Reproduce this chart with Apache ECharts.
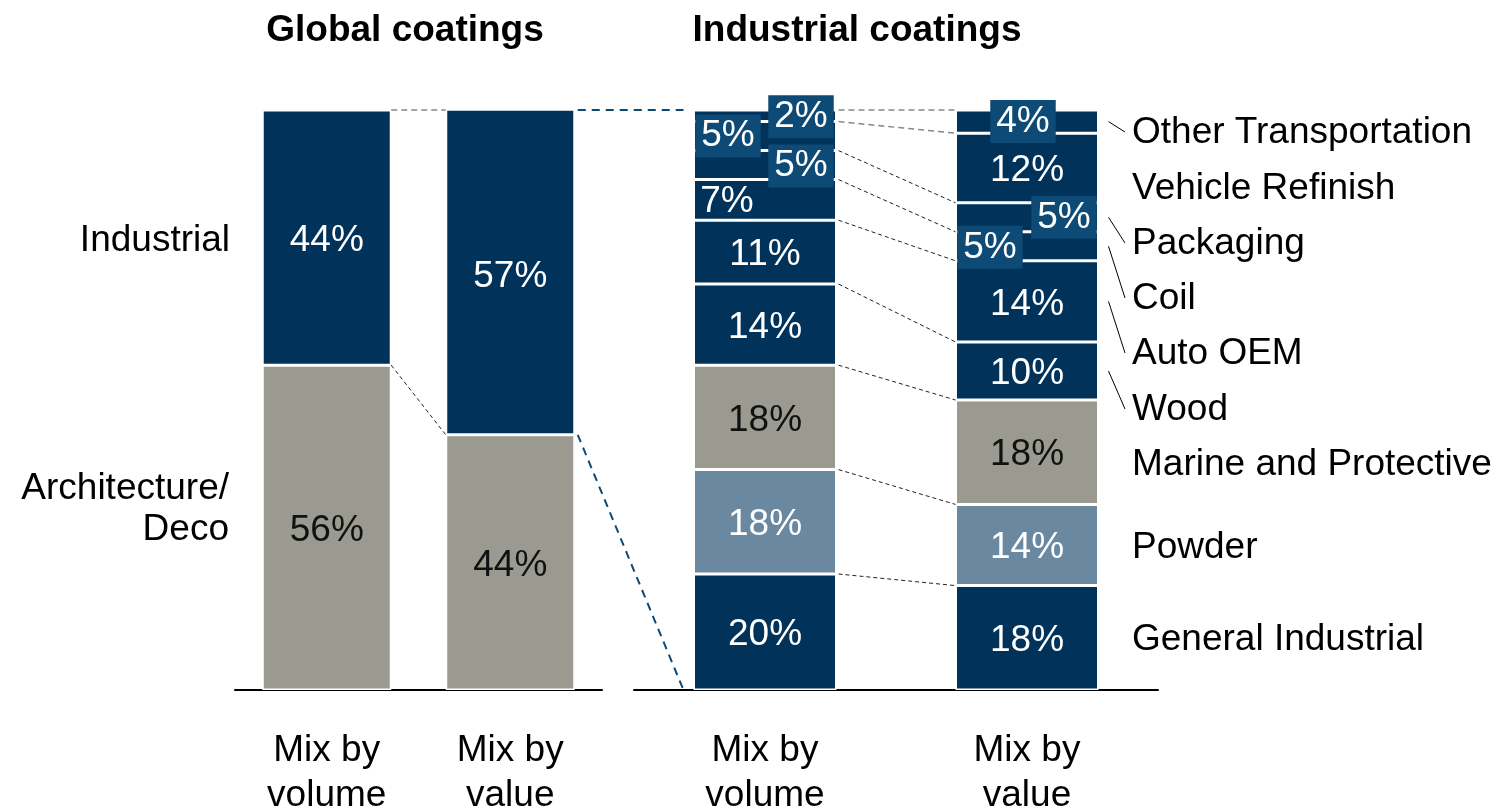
<!DOCTYPE html>
<html>
<head>
<meta charset="utf-8">
<script src="https://cdn.jsdelivr.net/npm/echarts@6/dist/echarts.min.js"></script>
<style>
html,body{margin:0;padding:0;background:#fff;}
#c{width:1498px;height:807px;}
</style>
</head>
<body>
<div id="c"></div>
<script>
// ---------- DATA ----------
const globalCategories = ['Mix by\nvolume', 'Mix by\nvalue'];
const globalSegments = ['Architecture/Deco', 'Industrial'];
const globalArchDeco = [56, 44];
const globalIndustrial = [44, 57];

const industrialCategories = ['Mix by\nvolume', 'Mix by\nvalue'];
const industrialSegments = ['General Industrial', 'Powder', 'Marine and Protective', 'Wood', 'Auto OEM', 'Coil', 'Packaging', 'Vehicle Refinish', 'Other Transportation'];
const industrialVolume = [20, 18, 18, 14, 11, 7, 5, 5, 2];
const industrialValue = [18, 14, 18, 10, 14, 5, 5, 12, 4];

const titles = ['Global coatings', 'Industrial coatings'];

// ---------- STYLE / LAYOUT ----------
const FONT = 'Liberation Sans, Arial, sans-serif';
const NAVY = '#00325a';
const GREY = '#9a9a90';
const POWDER = '#6a89a0';
const BOX = '#0d4a75';
const FS = 37;
const BW0 = 129, BW1 = 143;

const segColors = {
  'General Industrial': NAVY, 'Powder': POWDER, 'Marine and Protective': GREY, 'Wood': NAVY,
  'Auto OEM': NAVY, 'Coil': NAVY, 'Packaging': NAVY, 'Vehicle Refinish': NAVY, 'Other Transportation': NAVY
};
const segTextColor = { 'Marine and Protective': '#111' };
// special label tweaks: [segment][catIndex]
const labelTweaks = {
  'Other Transportation': { 0: { box: true, offset: [36, 1] }, 1: { box: true, offset: [-4, 0] } },
  'Vehicle Refinish': { 0: { box: true, offset: [-37, 0] } },
  'Packaging': { 0: { box: true, offset: [36, 1] }, 1: { box: true, offset: [37, 0] } },
  'Coil': { 0: { box: false, offset: [-38, 2] }, 1: { box: true, offset: [-37, 1] } }
};
const rightLabelY = { 'Other Transportation': 133, 'Vehicle Refinish': 189, 'Packaging': 244, 'Coil': 299,
  'Auto OEM': 354, 'Wood': 410, 'Marine and Protective': 465, 'Powder': 548, 'General Industrial': 640 };
const leaderSegs = ['Other Transportation', 'Packaging', 'Coil', 'Auto OEM', 'Wood'];

const chart = echarts.init(document.getElementById('c'), null, { renderer: 'canvas' });

function xAxis(gi, cats) {
  return {
    type: 'category', gridIndex: gi, data: cats,
    axisLine: { lineStyle: { color: '#000', width: 2 } },
    axisTick: { show: false },
    axisLabel: { fontSize: FS, color: '#000', fontFamily: FONT, lineHeight: 45, margin: 38, interval: 0 }
  };
}
function yAxis(gi) {
  return { type: 'value', gridIndex: gi, min: 0, max: 100, show: false, splitLine: { show: false } };
}

const series = [];
const gData = [globalArchDeco, globalIndustrial];
globalSegments.forEach((name, i) => {
  series.push({
    name, type: 'bar', xAxisIndex: 0, yAxisIndex: 0, stack: 'g', barWidth: BW0,
    data: gData[i].map((v, ci) => (i === 1 && ci === 1) ? { value: v, label: { offset: [0, 5] } } : v),
    itemStyle: { color: i === 0 ? GREY : NAVY, borderColor: '#fff', borderWidth: 1.5 },
    label: { show: true, position: 'inside', offset: [0, 3], formatter: p => p.value + '%', fontSize: FS, fontFamily: FONT,
      color: i === 0 ? '#111' : '#fff' }
  });
});
industrialSegments.forEach((name, i) => {
  const vals = [industrialVolume[i], industrialValue[i]];
  const data = vals.map((v, ci) => {
    const t = labelTweaks[name] && labelTweaks[name][ci];
    if (!t) return v;
    const lab = { offset: t.offset };
    if (t.box) { lab.backgroundColor = BOX; lab.padding = [3, 6, 2, 6]; }
    return { value: v, label: lab };
  });
  series.push({
    name, type: 'bar', xAxisIndex: 1, yAxisIndex: 1, stack: 'i', barWidth: BW1,
    data,
    itemStyle: { color: segColors[name], borderColor: '#fff', borderWidth: 1.5 },
    label: { show: true, position: 'inside', offset: [0, 3], formatter: p => p.value + '%', fontSize: FS, fontFamily: FONT,
      color: segTextColor[name] || '#fff', lineHeight: 38 }
  });
});

chart.setOption({
  animation: false,
  backgroundColor: '#fff',
  grid: [
    { left: 235, width: 367, top: 110, height: 580, outerBoundsMode: 'none', containLabel: false },
    { left: 634, width: 524, top: 110, height: 580, outerBoundsMode: 'none', containLabel: false }
  ],
  xAxis: [xAxis(0, globalCategories), xAxis(1, industrialCategories)],
  yAxis: [yAxis(0), yAxis(1)],
  series
});

// ---------- derived graphics (connectors, labels) ----------
function px(gi, ci, v) { return chart.convertToPixel({ xAxisIndex: gi, yAxisIndex: gi }, [ci, v]); }
function cum(arr, n) { let s = 0; for (let k = 0; k < n; k++) s += arr[k]; return Math.min(s, 100); }

const g = [];
function dashLine(x1, y1, x2, y2, color, width, dash) {
  g.push({ type: 'line', shape: { x1, y1, x2, y2 }, style: { stroke: color, lineWidth: width, lineDash: dash }, z: 10 });
}
// global panel connectors
{
  const c0 = px(0, 0, 0)[0], c1 = px(0, 1, 0)[0];
  const r0 = c0 + BW0 / 2, l1 = c1 - BW0 / 2, r1 = c1 + BW0 / 2;
  const yTop0 = px(0, 0, cum([globalArchDeco[0], globalIndustrial[0]], 2))[1];
  const yTop1 = px(0, 1, cum([globalArchDeco[1], globalIndustrial[1]], 2))[1];
  const yMid0 = px(0, 0, globalArchDeco[0])[1];
  const yMid1 = px(0, 1, globalArchDeco[1])[1];
  dashLine(r0, yTop0, l1, yTop1, '#888', 1.5, [6, 4]);
  dashLine(r0, yMid0, l1, yMid1, '#222', 1, [4, 3]);
  const volLeft = px(1, 0, 0)[0] - BW1 / 2 - 10;
  dashLine(r1 + 3, yTop1, volLeft, px(1, 0, 100)[1], '#0b4a73', 2, [8, 6]);
  dashLine(r1 + 3, yMid1, volLeft, px(1, 0, 0)[1], '#0b4a73', 2, [8, 6]);
}
// industrial panel connectors
{
  const rVol = px(1, 0, 0)[0] + BW1 / 2 + 2, lVal = px(1, 1, 0)[0] - BW1 / 2;
  for (let k = 1; k <= industrialSegments.length; k++) {
    const y0 = px(1, 0, cum(industrialVolume, k))[1];
    const y1 = px(1, 1, cum(industrialValue, k))[1];
    const top = k >= industrialSegments.length - 1;
    dashLine(rVol, y0, lVal, y1, top ? '#888' : '#222', top ? 1.5 : 1, top ? [6, 4] : [4, 3]);
  }
  // right labels + leaders
  const rVal = px(1, 1, 0)[0] + BW1 / 2;
  industrialSegments.forEach((name, i) => {
    const ly = rightLabelY[name];
    g.push({ type: 'text', x: 1132, y: ly, style: { text: name, font: FS + 'px ' + FONT, fill: '#000', textAlign: 'left', textVerticalAlign: 'middle' } });
    if (leaderSegs.includes(name)) {
      const cy = px(1, 1, cum(industrialValue, i) + industrialValue[i] / 2)[1];
      g.push({ type: 'line', shape: { x1: rVal + 10, y1: cy, x2: 1125, y2: ly - 1 }, style: { stroke: '#000', lineWidth: 1 } });
    }
  });
}
// left labels & titles
g.push({ type: 'text', x: 230, y: 241, style: { text: 'Industrial', font: FS + 'px ' + FONT, fill: '#000', textAlign: 'right', textVerticalAlign: 'middle' } });
g.push({ type: 'text', x: 229, y: 509, style: { text: 'Architecture/\nDeco', font: FS + 'px ' + FONT, lineHeight: 41, fill: '#000', textAlign: 'right', textVerticalAlign: 'middle' } });
g.push({ type: 'text', x: 405, y: 31, style: { text: titles[0], font: 'bold ' + FS + 'px ' + FONT, fill: '#000', textAlign: 'center', textVerticalAlign: 'middle' } });
g.push({ type: 'text', x: 857, y: 31, style: { text: titles[1], font: 'bold ' + FS + 'px ' + FONT, fill: '#000', textAlign: 'center', textVerticalAlign: 'middle' } });

chart.setOption({ graphic: g });
</script>
</body>
</html>
